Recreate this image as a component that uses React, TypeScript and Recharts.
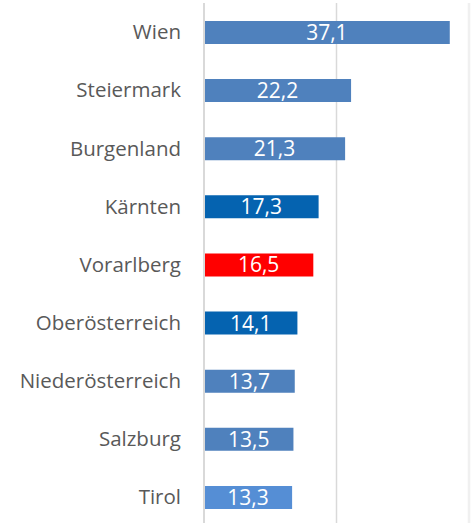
import { BarChart, Bar, XAxis, YAxis, Cell, LabelList, ReferenceLine, CartesianGrid } from 'recharts';

const regions = [
  'Wien',
  'Steiermark',
  'Burgenland',
  'Kärnten',
  'Vorarlberg',
  'Oberösterreich',
  'Niederösterreich',
  'Salzburg',
  'Tirol',
];

const values = [37.1, 22.2, 21.3, 17.3, 16.5, 14.1, 13.7, 13.5, 13.3];

const barColors = [
  '#4f81bd',
  '#4f81bd',
  '#4f81bd',
  '#0563b0',
  '#ff0000',
  '#0563b0',
  '#4f81bd',
  '#4f81bd',
  '#558ed5',
];

const xTicks = [0, 20, 40];

const chartData = regions.map((name, i) => ({ name, value: values[i] }));

const font = '"Open Sans", "Noto Sans", sans-serif';

export default function App() {
  return (
    <div style={{ position: 'absolute', left: 0, top: 0, background: '#fff', fontFamily: font }}>
      <BarChart
        width={474}
        height={523}
        data={chartData}
        layout="vertical"
        margin={{ top: 3, right: 5, bottom: -3, left: 0 }}
      >
        {/* grid sits behind the bars */}
        <CartesianGrid horizontal={false} stroke="#d9d9d9" strokeWidth={1.5} />
        <XAxis type="number" domain={[0, 40]} ticks={xTicks} hide />
        <YAxis
          type="category"
          dataKey="name"
          width={204}
          axisLine={false}
          tickLine={false}
          tickSize={0}
          tickMargin={23}
          tick={{ fill: '#595959', fontSize: 20.5, fontFamily: font }}
        />
        {/* outer edge line is much fainter */}
        <ReferenceLine x={40} stroke="#f0f0f0" strokeWidth={2.5} />
        <Bar dataKey="value" barSize={23} isAnimationActive={false}>
          {chartData.map((d, i) => (
            <Cell key={d.name} fill={barColors[i]} />
          ))}
          <LabelList
            dataKey="value"
            position="center"
            fill="#ffffff"
            fontSize={21}
            fontFamily={font}
            formatter={(v: any) => String(v).replace('.', ',')}
          />
        </Bar>
        <ReferenceLine x={0} stroke="#d9d9d9" strokeWidth={2} />
      </BarChart>
    </div>
  );
}
